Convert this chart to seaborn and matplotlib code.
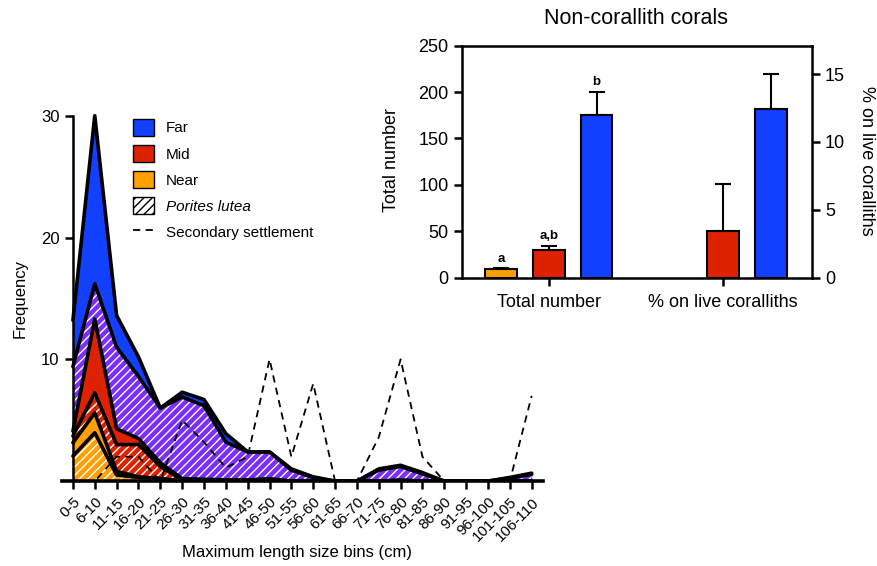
import numpy as np
import pandas as pd
import matplotlib
matplotlib.use("Agg")
import matplotlib.pyplot as plt
import seaborn as sns
from matplotlib.patches import Patch
from matplotlib.lines import Line2D

# --- size-frequency data ---
bins = ["0-5", "6-10", "11-15", "16-20", "21-25", "26-30", "31-35", "36-40",
        "41-45", "46-50", "51-55", "56-60", "61-65", "66-70", "71-75", "76-80",
        "81-85", "86-90", "91-95", "96-100", "101-105", "106-110"]
far = [13.2, 30, 13.6, 10.2, 6.0, 7.3, 6.7, 3.9, 2.4, 2.4, 1.0, 0.35,
       0, 0, 1.0, 1.3, 0.7, 0, 0, 0, 0.3, 0.65]
far_porites = [9.4, 16.2, 11.0, 8.6, 6.0, 6.9, 6.2, 3.2, 2.4, 2.4, 0.9, 0.3,
               0, 0, 0.9, 1.2, 0.6, 0, 0, 0, 0.25, 0.55]
mid = [4.1, 13.3, 4.3, 3.5, 1.5, 0.2, 0.15, 0.1, 0.1, 0.2, 0, 0,
       0, 0, 0, 0.1, 0, 0, 0, 0, 0, 0]
mid_porites = [3.7, 7.25, 3.0, 3.0, 1.2, 0.1, 0.1, 0.05, 0.05, 0.1, 0, 0,
               0, 0, 0, 0, 0, 0, 0, 0, 0, 0]
near = [3.15, 5.6, 0.8, 0.35, 0.2, 0, 0, 0, 0, 0, 0, 0,
        0, 0, 0, 0, 0, 0, 0, 0, 0, 0]
near_porites = [2.05, 3.97, 0.5, 0.3, 0.2, 0, 0, 0, 0, 0, 0, 0,
                0, 0, 0, 0, 0, 0, 0, 0, 0, 0]
secondary = [0, 0, 2.0, 2.0, 0, 5.0, 3.2, 1.1, 2.0, 10, 2.0, 8.0,
             0, 0, 3.6, 10, 2.0, 0, 0, 0, 0, 7.0]

# --- inset data ---
groups = ["Total number", "% on live coralliths"]
sites = ["Near", "Mid", "Far"]
total_vals = [9, 30, 175]
total_err = [1, 4.5, 25]
total_letters = ["a", "a,b", "b"]
pct_sites = ["Mid", "Far"]
pct_vals = [3.45, 12.45]
pct_err = [3.43, 2.55]

blue = "#1141FF"
red = "#DD2200"
orange = "#FFA000"
purple = "#7A2EFF"
palette = {"Near": orange, "Mid": red, "Far": blue}

sns.set_style("ticks")
plt.rcParams["font.family"] = ["Liberation Sans", "DejaVu Sans"]
plt.rcParams["hatch.linewidth"] = 1.0
for k in ("text.color", "axes.labelcolor", "xtick.color", "ytick.color", "axes.edgecolor"):
    plt.rcParams[k] = "black"

fig = plt.figure(figsize=(8.77, 5.66), dpi=100)

# ---------------- main area chart ----------------
ax = fig.add_axes([0.0707, 0.150, 0.548, 0.667])
x = np.arange(len(bins))

layers = [(far, blue, None), (far_porites, purple, "////"),
          (mid, red, None), (mid_porites, red, "////"),
          (near, orange, None), (near_porites, orange, "////")]
for vals, col, hatch in layers:
    if hatch:
        ax.fill_between(x, 0, vals, facecolor=col, edgecolor="white",
                        hatch=hatch, linewidth=0, zorder=1)
    else:
        ax.fill_between(x, 0, vals, facecolor=col, linewidth=0, zorder=1)
    sns.lineplot(x=x, y=vals, ax=ax, color="black", linewidth=2.6, zorder=2)

sns.lineplot(x=x, y=secondary, ax=ax, color="black", linewidth=1.3, zorder=3)
ax.lines[-1].set_linestyle((0, (4, 3)))

ax.set_xlim(-0.5, 21.5)
ax.set_ylim(0, 31)
ax.spines["top"].set_visible(False)
ax.spines["right"].set_visible(False)
ax.spines["left"].set_position(("data", 0))
ax.spines["left"].set_bounds(0, 30)
ax.spines["left"].set_linewidth(1.8)
ax.spines["bottom"].set_linewidth(2.6)
ax.spines["bottom"].set_zorder(4)
ax.set_xticks(x)
ax.set_xticklabels(bins, rotation=45, ha="right", rotation_mode="anchor", fontsize=11)
ax.set_yticks([10, 20, 30])
ax.tick_params(axis="y", labelsize=12, length=6, width=1.8)
ax.tick_params(axis="x", length=6, width=1.8, pad=4)
ax.set_xlabel("")
ax.set_ylabel("")

fig.text(297 / 877, 1 - 552 / 566, "Maximum length size bins (cm)",
         ha="center", va="center", fontsize=12)
fig.text(20 / 877, 1 - 298 / 566, "Frequency", rotation=90,
         ha="center", va="center", fontsize=12)

handles = [Patch(facecolor=blue, edgecolor="black", linewidth=1),
           Patch(facecolor=red, edgecolor="black", linewidth=1),
           Patch(facecolor=orange, edgecolor="black", linewidth=1),
           Patch(facecolor="white", edgecolor="black", hatch="////", linewidth=1),
           Line2D([], [], color="black", linewidth=1.3, linestyle=(0, (4, 3)))]
labels = ["Far", "Mid", "Near", "Porites lutea", "Secondary settlement"]
leg = ax.legend(handles, labels, loc="upper left",
                bbox_to_anchor=(133 / 877, 1 - 119 / 566),
                bbox_transform=fig.transFigure, frameon=False, fontsize=11,
                handlelength=1.35, handleheight=1.3, handletextpad=0.8,
                labelspacing=0.62, borderpad=0, borderaxespad=0)
leg.get_texts()[3].set_fontstyle("italic")

# ---------------- inset bar chart ----------------
axi = fig.add_axes([0.5265, 0.5094, 0.399, 0.41])
axi.patch.set_alpha(0)
axr = axi.twinx()

df_total = pd.DataFrame({"group": groups[0], "site": sites, "value": total_vals})
df_pct = pd.DataFrame({"group": groups[1], "site": pct_sites, "value": pct_vals})

sns.barplot(data=df_total, x="group", y="value", hue="site", order=groups,
            hue_order=sites, palette=palette, width=0.825, gap=0.34,
            saturation=1, edgecolor="black", linewidth=1.5, errorbar=None,
            legend=False, ax=axi)
sns.barplot(data=df_pct, x="group", y="value", hue="site", order=groups,
            hue_order=sites, palette=palette, width=0.825, gap=0.34,
            saturation=1, edgecolor="black", linewidth=1.5, errorbar=None,
            legend=False, ax=axr)

step = 0.825 / 3
xt = [0 + (sites.index(s) - 1) * step for s in sites]
axi.errorbar(xt, total_vals, yerr=[np.zeros(3), total_err], fmt="none",
             ecolor="black", elinewidth=1.5, capsize=5.5, capthick=1.5, zorder=3)
for xx, v, e, t in zip(xt, total_vals, total_err, total_letters):
    axi.text(xx, v + e + 4, t, ha="center", va="bottom", fontsize=9.5,
             fontweight="bold")
xp = [1 + (sites.index(s) - 1) * step for s in pct_sites]
axr.errorbar(xp, pct_vals, yerr=[np.zeros(2), pct_err], fmt="none",
             ecolor="black", elinewidth=1.5, capsize=5.5, capthick=1.5, zorder=3)

for a in (axi, axr):
    a.set_xlim(-0.5, 1.51)
    a.set_xlabel("")
    a.set_ylabel("")
axi.set_ylim(0, 250)
axr.set_ylim(0, 17.1)
axi.set_yticks([0, 50, 100, 150, 200, 250])
axr.set_yticks([0, 5, 10, 15])
axi.set_xticks([0, 1])
axi.set_xticklabels(groups, fontsize=13)
axi.tick_params(axis="y", labelsize=13, length=6, width=1.8)
axi.tick_params(axis="x", length=6, width=1.8, pad=6)
axr.tick_params(axis="y", labelsize=13, length=6, width=1.8)
for s in axi.spines.values():
    s.set_linewidth(1.8)
axi.spines["right"].set_visible(False)
for k in ("left", "top", "bottom"):
    axr.spines[k].set_visible(False)
axr.spines["right"].set_linewidth(1.8)

fig.text(636 / 877, 1 - 18 / 566, "Non-corallith corals", ha="center",
         va="center", fontsize=15.5)
fig.text(391 / 877, 1 - 160 / 566, "Total number", rotation=90, ha="center",
         va="center", fontsize=13)
fig.text(866 / 877, 1 - 161 / 566, "% on live coralliths", rotation=270,
         ha="center", va="center", fontsize=13)

fig.savefig("out.png", dpi=100)
